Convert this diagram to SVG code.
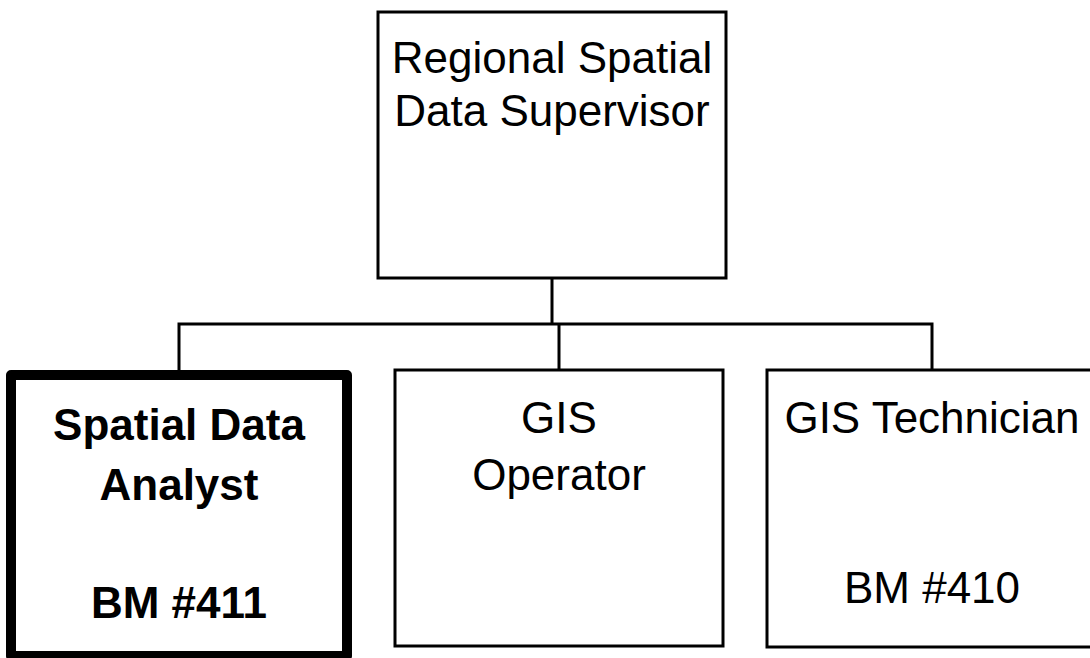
<svg xmlns="http://www.w3.org/2000/svg" width="1090" height="658" viewBox="0 0 1090 658">
  <style>
    .box { fill: #ffffff; stroke: #000000; stroke-width: 3; }
    .box-bold { fill: #ffffff; stroke: #000000; stroke-width: 10; stroke-linejoin: round; }
    .label { font-family: "Liberation Sans", Arial, sans-serif; font-size: 44px; fill: #000000; text-anchor: middle; }
    .label-bold { font-family: "Liberation Sans", Arial, sans-serif; font-size: 44px; font-weight: bold; fill: #000000; text-anchor: middle; }
    .wire { fill: none; stroke: #000000; stroke-width: 3; }
  </style>
  <rect width="1090" height="658" fill="#ffffff"/>

  <!-- reporting lines -->
  <g id="connectors">
    <line class="wire" x1="552" y1="278" x2="552" y2="324"/>
    <polyline class="wire" points="179,370 179,324 932,324 932,370"/>
    <line class="wire" x1="559" y1="324" x2="559" y2="370"/>
  </g>

  <g id="supervisor">
    <rect class="box" x="378" y="12" width="348" height="266"/>
    <text class="label" x="552" y="73">Regional Spatial</text>
    <text class="label" x="552" y="126">Data Supervisor</text>
  </g>

  <g id="analyst">
    <rect class="box-bold" x="11" y="375" width="336" height="281"/>
    <text class="label-bold" x="179" y="440">Spatial Data</text>
    <text class="label-bold" x="179" y="500">Analyst</text>
    <text class="label-bold" x="179" y="618">BM #411</text>
  </g>

  <g id="operator">
    <rect class="box" x="395" y="370" width="328" height="276"/>
    <text class="label" x="559" y="433">GIS</text>
    <text class="label" x="559" y="490">Operator</text>
  </g>

  <g id="technician">
    <rect class="box" x="767" y="370" width="340" height="277"/>
    <text class="label" x="932" y="433">GIS Technician</text>
    <text class="label" x="932" y="603">BM #410</text>
  </g>
</svg>
